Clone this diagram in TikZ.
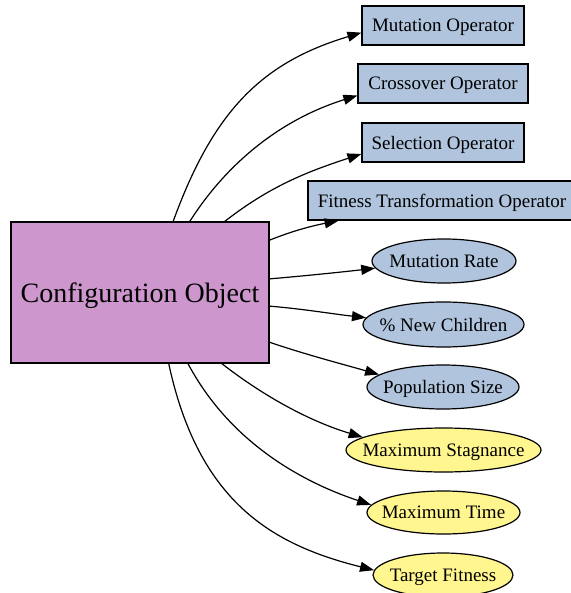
\documentclass[tikz,border=0pt]{standalone}
\usepackage{fontspec}
\setmainfont{Liberation Serif}
\usetikzlibrary{arrows.meta,shapes.geometric}
\definecolor{cfgpink}{HTML}{CD96CD}
\definecolor{opblue}{HTML}{B0C4DE}
\definecolor{paryellow}{HTML}{FFF68F}
\begin{document}
\begin{tikzpicture}[x=1pt,y=-1pt,
  mainbox/.style={draw=black, line width=1.2pt, fill=cfgpink, rectangle, inner sep=0pt,
    minimum width=258pt, minimum height=141pt, text depth=0pt, font=\fontsize{28}{32}\selectfont},
  opbox/.style={draw=black, line width=1.2pt, fill=opblue, rectangle, inner sep=0pt,
    minimum height=39pt, text depth=0pt, font=\fontsize{19}{22}\selectfont},
  parell/.style={draw=black, line width=1.2pt, ellipse, inner sep=0pt,
    minimum height=44pt, text depth=0pt, font=\fontsize{19}{22}\selectfont},
  blueell/.style={parell, fill=opblue},
  yellell/.style={parell, fill=paryellow},
  conn/.style={draw=black, line width=1.2pt, -{Triangle[length=14pt,width=10pt]}}]
\useasboundingbox (0,0) rectangle (570,593);
\fill[white] (0,0) rectangle (570,593);
\node[mainbox] (main) at (140,292.5) {Configuration Object};
\node[opbox, minimum width=162pt] (mo) at (443,25.5) {Mutation Operator};
\node[opbox, minimum width=170pt] (co) at (443,83.5) {Crossover Operator};
\node[opbox, minimum width=162pt] (so) at (443,142.5) {Selection Operator};
\node[opbox, minimum width=268pt] (fi) at (442,200.5) {Fitness Transformation Operator};
\node[blueell, minimum width=144pt] (mr) at (444,261) {\makebox[0pt]{Mutation Rate}};
\node[blueell, minimum width=161pt, minimum height=45pt] (nc) at (443.5,324.5) {\makebox[0pt]{\% New Children}};
\node[blueell, minimum width=152pt] (ps) at (443,387) {\makebox[0pt]{Population Size}};
\node[yellell, minimum width=195pt] (ms) at (443.5,450) {\makebox[0pt]{Maximum Stagnance}};
\node[yellell, minimum width=153pt, minimum height=43pt] (mt) at (443.5,512.5) {\makebox[0pt]{Maximum Time}};
\node[yellell, minimum width=140pt] (tf) at (443,575) {\makebox[0pt]{Target Fitness}};
\draw[conn] (main.65) .. controls +(40,-110) and +(-100,30) .. (mo.185);
\draw[conn] (main.55) .. controls +(35,-55) and +(-80,25) .. (co.188);
\draw[conn] (main.40) .. controls +(45,-35) and +(-55,18) .. (so.188);
\draw[conn] (main.22) .. controls +(25,-10) and +(-25,5) .. (fi.191);
\draw[conn] (main.6) .. controls +(35,-3) and +(-35,4) .. (mr.186);
\draw[conn] (main.-6) .. controls +(35,3) and +(-35,-4) .. (nc.175);
\draw[conn] (main.-21) .. controls +(35,12) and +(-35,-10) .. (ps.169);
\draw[conn] (main.-41) .. controls +(45,35) and +(-50,-15) .. (ms.171);
\draw[conn] (main.-56) .. controls +(40,75) and +(-75,-25) .. (mt.174);
\draw[conn] (main.-68) .. controls +(30,140) and +(-100,-25) .. (tf.176);
\end{tikzpicture}
\end{document}
